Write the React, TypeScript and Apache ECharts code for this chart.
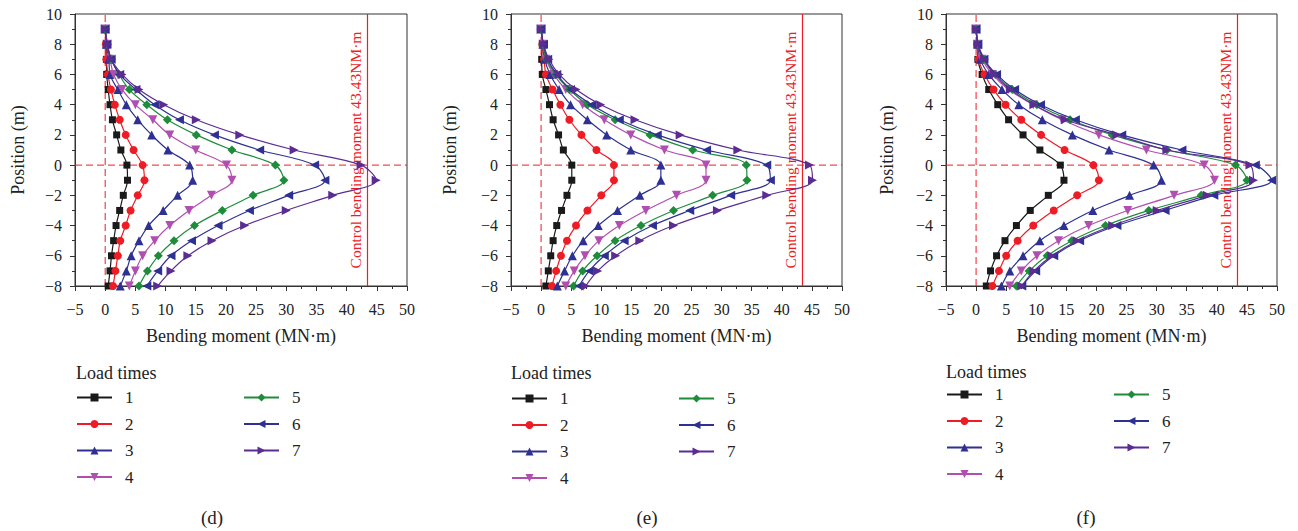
import React, { useEffect, useRef } from "react";
import * as echarts from "echarts";

const positions = [9, 8, 7, 6, 5, 4, 3, 2, 1, 0, -1, -2, -3, -4, -5, -6, -7, -8];

const d1 = [0, 0.15, 0.2, 0.25, 0.5, 0.8, 1.2, 1.9, 2.6, 3.6, 3.7, 3.0, 2.4, 1.8, 1.4, 1.05, 0.8, 0.5];
const d2 = [0, 0.1, 0.2, 0.45, 0.95, 1.6, 2.4, 3.4, 4.7, 6.2, 6.5, 5.4, 4.2, 3.4, 2.5, 2.1, 1.7, 1.3];
const d3 = [0, 0.2, 0.6, 0.8, 2.1, 3.5, 5.4, 7.7, 10.4, 14.0, 14.5, 12.0, 9.6, 7.2, 5.6, 4.3, 3.5, 2.5];
const d4 = [0, 0.3, 0.8, 1.4, 2.8, 5.0, 7.9, 10.7, 15.0, 20.1, 21.0, 17.6, 13.9, 10.7, 8.2, 6.2, 5.0, 4.0];
const d5 = [0, 0.3, 1.0, 2.3, 4.0, 6.9, 10.3, 15.1, 21.0, 28.2, 29.6, 24.5, 19.4, 14.8, 11.4, 8.8, 7.0, 5.6];
const d6 = [0, 0.3, 1.0, 2.4, 5.1, 8.2, 12.3, 18.1, 25.6, 34.7, 36.4, 30.4, 23.9, 18.7, 14.3, 10.9, 8.7, 6.9];
const d7 = [0, 0.4, 1.0, 2.8, 5.6, 9.7, 15.1, 22.3, 31.3, 42.4, 44.9, 37.7, 30.0, 23.1, 17.7, 13.7, 10.9, 8.7];

const e1 = [0, 0.2, 0.1, 0.2, 0.8, 1.4, 2.0, 2.9, 3.7, 5.1, 5.1, 4.3, 3.4, 2.6, 2.0, 1.6, 1.2, 0.8];
const e2 = [0, 0.2, 0.5, 0.8, 1.9, 3.2, 4.7, 6.7, 9.2, 12.1, 12.1, 10.0, 7.7, 5.8, 4.3, 3.3, 2.5, 1.8];
const e3 = [0, 0.3, 0.6, 1.5, 3.0, 4.9, 7.7, 10.9, 14.9, 19.9, 19.9, 16.4, 12.7, 9.5, 7.0, 5.2, 3.9, 2.7];
const e4 = [0, 0.3, 0.8, 2.1, 4.1, 6.9, 10.5, 14.9, 20.5, 27.4, 27.4, 22.5, 17.4, 13.0, 9.6, 7.3, 5.5, 4.1];
const e5 = [0, 0.3, 0.9, 2.4, 4.7, 7.7, 12.3, 18.1, 25.2, 34.1, 34.2, 28.5, 22.0, 16.6, 12.3, 9.3, 6.9, 5.4];
const e6 = [0, 0.4, 1.1, 2.6, 4.9, 8.4, 13.0, 19.3, 27.5, 37.5, 38.1, 31.5, 24.7, 18.5, 13.8, 10.5, 8.0, 6.3];
const e7 = [0, 0.4, 1.3, 3.0, 5.8, 9.9, 15.6, 23.1, 32.7, 44.6, 45.1, 37.5, 29.3, 22.0, 16.4, 12.4, 9.4, 7.4];

const f1 = [0, 0.2, 0.3, 1.0, 2.1, 3.6, 5.4, 7.8, 10.6, 14.0, 14.6, 12.0, 9.0, 6.7, 4.8, 3.4, 2.4, 1.7];
const f2 = [0, 0.2, 0.4, 1.4, 2.9, 4.9, 7.5, 10.8, 14.7, 19.5, 20.4, 16.8, 12.9, 9.5, 6.9, 5.0, 3.8, 2.7];
const f3 = [0, 0.3, 0.7, 2.1, 4.3, 7.1, 11.0, 16.0, 22.1, 29.5, 30.8, 25.5, 19.4, 14.6, 10.6, 7.8, 5.6, 4.2];
const f4 = [0, 0.3, 1.0, 2.7, 5.4, 9.5, 14.3, 20.4, 28.3, 37.9, 39.6, 32.9, 25.2, 18.7, 13.7, 10.1, 7.5, 5.6];
const f5 = [0, 0.3, 1.2, 3.2, 6.0, 10.1, 15.6, 22.6, 31.7, 43.1, 45.0, 37.4, 28.7, 21.5, 15.9, 11.8, 8.8, 6.7];
const f6 = [0, 0.3, 1.3, 3.4, 6.4, 10.7, 16.5, 24.2, 34.2, 46.4, 49.1, 39.5, 31.4, 23.4, 17.2, 12.9, 9.9, 7.6];
const f7 = [0, 0.3, 1.4, 3.0, 5.7, 9.6, 14.8, 23.4, 31.7, 45.5, 46.1, 38.4, 30.1, 22.7, 16.8, 12.6, 9.6, 7.6];

const panelData = [
  [d1, d2, d3, d4, d5, d6, d7],
  [e1, e2, e3, e4, e5, e6, e7],
  [f1, f2, f3, f4, f5, f6, f7],
];

const seriesNames = ["1", "2", "3", "4", "5", "6", "7"];
const panelLabels = ["(d)", "(e)", "(f)"];
const controlMoment = 43.43;
const controlLabel = "Control bending moment 43.43NM·m";
const xTitle = "Bending moment (MN·m)";
const yTitle = "Position (m)";
const legendTitle = "Load times";
const xRange = [-5, 50];
const yRange = [-8, 10];

const colors = ["#1a1a1a", "#ee1c25", "#2e3192", "#b04fb0", "#1e8c3a", "#2e3192", "#5b2c92"];
const symbols = ["rect", "circle", "triangle", "triangle", "diamond", "triangle", "triangle"];
const rotates = [0, 0, 0, 180, 0, 90, -90];
const RED = "#ee1c25";

const FONT = '"Liberation Serif", "Times New Roman", serif';

const grids = [
  { left: 75, top: 14, width: 332, height: 272 },
  { left: 511, top: 14, width: 331, height: 272 },
  { left: 946, top: 14, width: 331, height: 272 },
];
const yNameGaps = [48, 52, 50];
const legendPos = [
  { l1: 76, l2: 243, top: 389, title: 373 },
  { l1: 511, l2: 678, top: 390, title: 373 },
  { l1: 946, l2: 1113, top: 386, title: 372 },
];
const labelX = [212, 647, 1086];

const minus = (v: number) => String(v).replace("-", "\u2212");

export default function App() {
  const ref = useRef<HTMLDivElement>(null);
  useEffect(() => {
    if (!ref.current) return;
    const chart = echarts.init(ref.current, undefined, { renderer: "svg" });
    const axisCommon = {
      axisLine: { show: true, onZero: false, lineStyle: { color: "#333", width: 1 } },
      axisTick: { show: true, inside: false, length: 5, lineStyle: { color: "#333" } },
      minorTick: { show: true, splitNumber: 2, length: 3, lineStyle: { color: "#333" } },
      splitLine: { show: false },
      axisLabel: { fontFamily: FONT, fontSize: 16, color: "#222", formatter: minus },
      nameTextStyle: { fontFamily: FONT, fontSize: 18, color: "#222" },
    };
    const xAxis = grids.map((_, p) => ({
      ...axisCommon,
      type: "value",
      gridIndex: p,
      min: xRange[0],
      max: xRange[1],
      interval: 5,
      name: xTitle,
      nameLocation: "middle",
      nameGap: 41,
      axisLabel: { ...axisCommon.axisLabel, margin: 15 },
    }));
    const yAxis = grids.map((_, p) => ({
      ...axisCommon,
      type: "value",
      gridIndex: p,
      min: yRange[0],
      max: yRange[1],
      interval: 2,
      name: yTitle,
      nameLocation: "middle",
      nameGap: yNameGaps[p],
      axisLabel: { ...axisCommon.axisLabel, margin: 13 },
    }));
    const series: any[] = [];
    panelData.forEach((arrs, p) => {
      const dashed = { color: RED, width: 1, type: [7, 4] };
      series.push({
        type: "line",
        name: "zeroX" + p,
        xAxisIndex: p,
        yAxisIndex: p,
        data: [[0, yRange[0]], [0, yRange[1]]],
        symbol: "none",
        silent: true,
        color: RED,
        lineStyle: dashed,
        z: 2,
      });
      series.push({
        type: "line",
        name: "zeroY" + p,
        xAxisIndex: p,
        yAxisIndex: p,
        data: [[xRange[0], 0], [xRange[1], 0]],
        symbol: "none",
        silent: true,
        color: RED,
        lineStyle: dashed,
        z: 2,
      });
      series.push({
        type: "line",
        name: "control" + p,
        xAxisIndex: p,
        yAxisIndex: p,
        data: [],
        silent: true,
        color: RED,
        z: 2,
        markLine: {
          silent: true,
          symbol: "none",
          animation: false,
          data: [
            {
              xAxis: controlMoment,
              lineStyle: { color: RED, type: "solid", width: 1.2 },
              label: {
                show: true,
                position: "insideMiddleTop",
                formatter: controlLabel,
                color: RED,
                fontFamily: FONT,
                fontSize: 15.5,
                distance: 4,
              },
            },
          ],
        },
      });
      arrs.forEach((vals, i) => {
        series.push({
          type: "line",
          name: seriesNames[i],
          xAxisIndex: p,
          yAxisIndex: p,
          data: vals.map((v, k) => [v, positions[k]]),
          smooth: 0.35,
          symbol: symbols[i],
          symbolRotate: rotates[i],
          symbolSize: symbols[i] === "rect" ? 7 : symbols[i] === "circle" ? 8 : 9,
          itemStyle: { color: colors[i] },
          lineStyle: { color: colors[i], width: 1.2 },
          z: 3 + i,
        });
      });
    });
    const legendCommon = {
      orient: "vertical",
      itemWidth: 35,
      itemHeight: 10,
      itemGap: 9.5,
      padding: 0,
      textStyle: { fontFamily: FONT, fontSize: 17, color: "#222", padding: [0, 0, 0, 8] },
      selectedMode: false,
    };
    const legend: any[] = [];
    legendPos.forEach((lp) => {
      legend.push({ ...legendCommon, left: lp.l1, top: lp.top, data: seriesNames.slice(0, 4) });
      legend.push({ ...legendCommon, left: lp.l2, top: lp.top, data: seriesNames.slice(4) });
    });
    const graphic: any[] = [];
    legendPos.forEach((lp, p) => {
      graphic.push({
        type: "text",
        x: lp.l1,
        y: lp.title,
        style: { text: legendTitle, fontFamily: FONT, fontSize: 18, fill: "#222", align: "left", verticalAlign: "middle" },
      });
      graphic.push({
        type: "text",
        x: labelX[p],
        y: 517,
        style: { text: panelLabels[p], fontFamily: FONT, fontSize: 19, fill: "#222", align: "center", verticalAlign: "middle" },
      });
    });
    chart.setOption({
      animation: false,
      backgroundColor: "#fff",
      grid: grids.map((g) => ({ ...g, show: true, borderColor: "#333", borderWidth: 1, backgroundColor: "transparent" })),
      xAxis,
      yAxis,
      series,
      legend,
      graphic,
    });
    return () => chart.dispose();
  }, []);
  return <div ref={ref} style={{ position: "absolute", left: 0, top: 0, width: 1298, height: 531 }} />;
}
